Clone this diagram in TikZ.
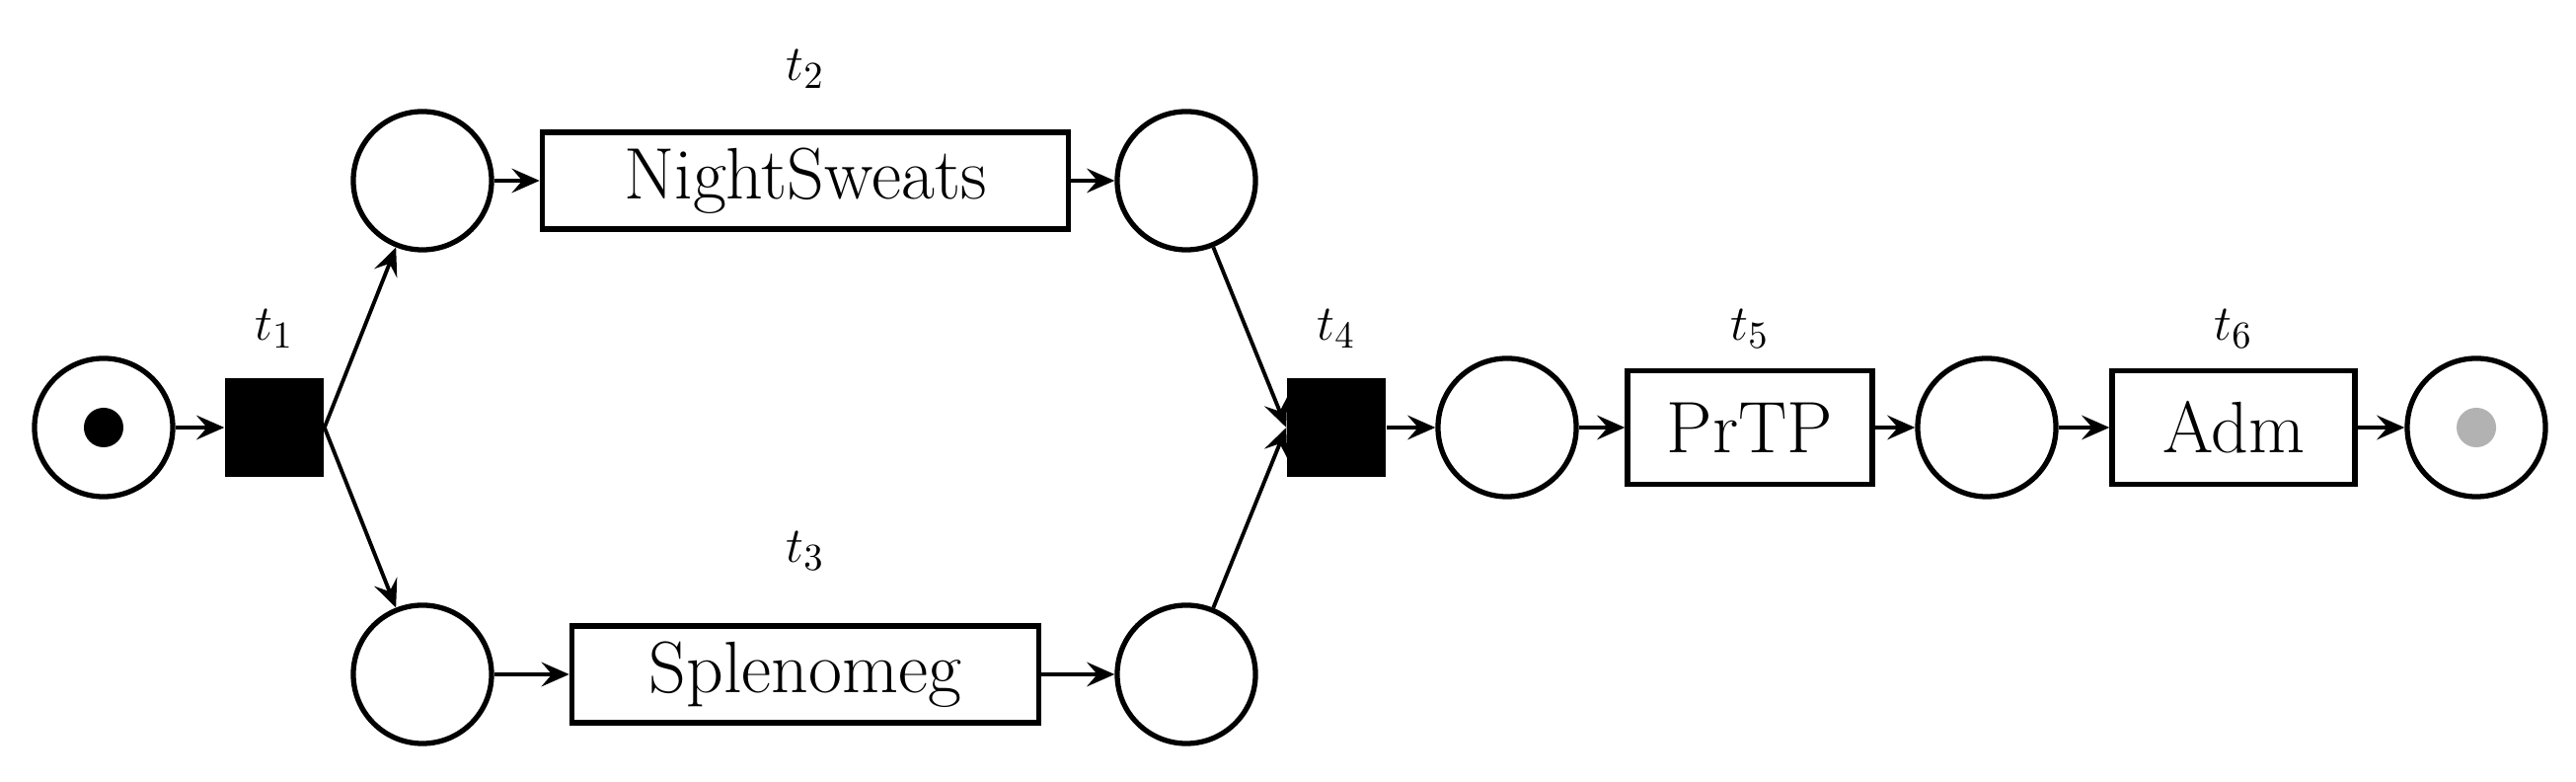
\documentclass[tikz,border=0pt]{standalone}
\usetikzlibrary{arrows.meta}
\begin{document}
\begin{tikzpicture}[x=0.01cm,y=0.01cm,
  place/.style={circle,draw,line width=1.5pt,minimum size=1.4cm,inner sep=0pt},
  bar/.style={rectangle,fill=black,minimum size=1.0cm,inner sep=0pt},
  trans/.style={rectangle,draw,line width=1.5pt,minimum height=0.98cm,inner sep=0pt,font=\fontsize{21}{24}\selectfont},
  lab/.style={font=\fontsize{15}{18}\selectfont},
  arr/.style={-{Stealth[length=8pt,width=7pt,inset=3pt]},line width=1.1pt}]
\useasboundingbox (0,0) rectangle (2610,792);
\node[place] (p0) at (105,359) {};
\fill (p0) circle (0.2cm);
\node[bar] (t1) at (278,359) {};
\node[lab] (l1) at (278,459) {$t_1$};
\node[place] (p1) at (428,609) {};
\node[trans,minimum width=5.33cm] (t2) at (816,609) {NightSweats};
\node[lab] (l2) at (816,722) {$t_2$};
\node[place] (p2) at (1202,609) {};
\node[place] (p3) at (428,109) {};
\node[trans,minimum width=4.73cm] (t3) at (816,109) {Splenomeg};
\node[lab] (l3) at (816,234) {$t_3$};
\node[place] (p4) at (1202,109) {};
\node[bar] (t4) at (1354,359) {};
\node[lab] (l4) at (1354,459) {$t_4$};
\node[place] (p5) at (1527,359) {};
\node[trans,minimum width=2.48cm,minimum height=1.15cm] (t5) at (1773,359) {PrTP};
\node[lab] (l5) at (1773,459) {$t_5$};
\node[place] (p6) at (2013,359) {};
\node[trans,minimum width=2.46cm,minimum height=1.15cm] (t6) at (2263,359) {Adm};
\node[lab] (l6) at (2263,459) {$t_6$};
\node[place] (p7) at (2509,359) {};
\fill[black!30] (p7) circle (0.2cm);
\draw[arr] (p0) -- (t1);
\draw[arr] (t1.east) -- (p1);
\draw[arr] (t1.east) -- (p3);
\draw[arr] (p1) -- (t2);
\draw[arr] (t2) -- (p2);
\draw[arr] (p3) -- (t3);
\draw[arr] (t3) -- (p4);
\draw[arr] (p2) -- (t4.west);
\draw[arr] (p4) -- (t4.west);
\draw[arr] (t4) -- (p5);
\draw[arr] (p5) -- (t5);
\draw[arr] (t5) -- (p6);
\draw[arr] (p6) -- (t6);
\draw[arr] (t6) -- (p7);
\end{tikzpicture}
\end{document}
